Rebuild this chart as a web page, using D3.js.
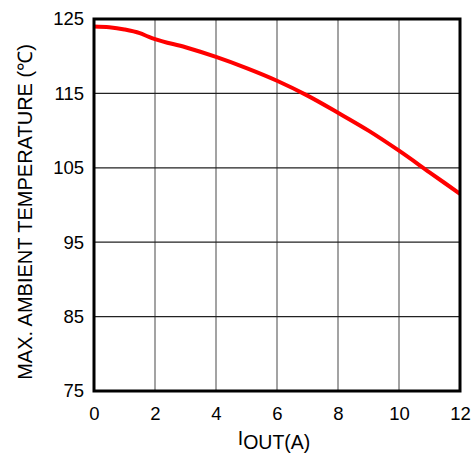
<!DOCTYPE html>
<html><head><meta charset="utf-8">
<script src="https://cdn.jsdelivr.net/npm/d3@7"></script>
<style>body{margin:0;background:#fff;} text{font-family:Arial,"Liberation Sans",sans-serif;fill:#000;}</style>
</head><body>
<svg id="c" width="472" height="456"></svg>
<script>
const currentA = [0, 0.5, 1, 1.5, 1.8, 2, 3, 4, 5, 6, 7, 8, 9, 10, 11, 12];
const maxTempC = [124.0, 123.9, 123.6, 123.1, 122.6, 122.3, 121.2, 119.9, 118.4, 116.7, 114.7, 112.4, 110.0, 107.3, 104.4, 101.5];
const xTicks = [0, 2, 4, 6, 8, 10, 12];
const yTicks = [75, 85, 95, 105, 115, 125];

const svg = d3.select("#c");
const L = 94, R = 460, T = 19, B = 391;
const x = d3.scaleLinear().domain([0, 12]).range([L, R]);
const y = d3.scaleLinear().domain([75, 125]).range([B, T]);
const FF = "Arial, 'Liberation Sans', sans-serif";

// grid
svg.append("g").selectAll("line").data(xTicks.slice(1, -1)).join("line")
  .attr("x1", d => x(d)).attr("x2", d => x(d)).attr("y1", T).attr("y2", B)
  .attr("stroke", "#666").attr("stroke-width", 1.2);
svg.append("g").selectAll("line").data(yTicks.slice(1, -1)).join("line")
  .attr("x1", L).attr("x2", R).attr("y1", d => y(d)).attr("y2", d => y(d))
  .attr("stroke", "#222").attr("stroke-width", 1.2);

// axes labels
const xa = svg.append("g").attr("transform", `translate(0,${B})`)
  .call(d3.axisBottom(x).tickValues(xTicks).tickSize(0).tickPadding(16));
xa.select(".domain").remove();
xa.selectAll("text").attr("font-size", 18.5).style("font-family", FF);
const ya = svg.append("g").attr("transform", `translate(${L},0)`)
  .call(d3.axisLeft(y).tickValues(yTicks).tickSize(0).tickPadding(10));
ya.select(".domain").remove();
ya.selectAll("text").attr("font-size", 18.5).style("font-family", FF);

// curve
const line = d3.line().x((d, i) => x(currentA[i])).y(d => y(d)).curve(d3.curveMonotoneX);
svg.append("path").datum(maxTempC).attr("d", line)
  .attr("fill", "none").attr("stroke", "#ff0000").attr("stroke-width", 4).attr("stroke-linejoin", "round");

// frame
svg.append("rect").attr("x", L).attr("y", T).attr("width", R - L).attr("height", B - T)
  .attr("fill", "none").attr("stroke", "#000").attr("stroke-width", 3);

// titles
const xt = svg.append("text").attr("x", 274).attr("y", 449).attr("text-anchor", "middle").attr("font-size", 19.5);
xt.append("tspan").text("I").attr("dy", -4);
xt.append("tspan").text("OUT(A)").attr("dy", 4);
svg.append("text").attr("transform", "translate(32,212) rotate(-90)").attr("text-anchor", "middle")
  .attr("font-size", 20).text("MAX. AMBIENT TEMPERATURE (℃)");
</script>
</body></html>
